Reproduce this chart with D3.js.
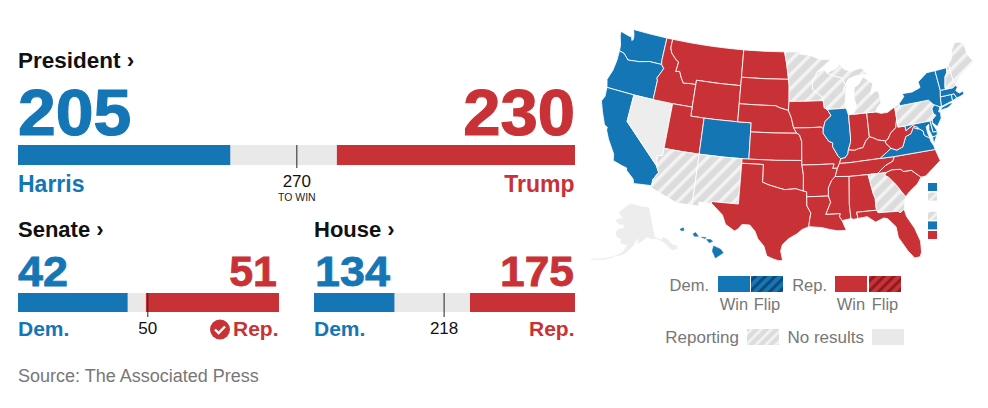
<!DOCTYPE html>
<html><head><meta charset="utf-8">
<script src="https://cdn.jsdelivr.net/npm/d3@7"></script>
<style>html,body{margin:0;padding:0;background:#fff}svg{display:block}text{font-family:"Liberation Sans",Arial,sans-serif}</style>
</head><body><svg id="c" width="988" height="408"></svg>
<script>
const BLUE="#1576b6",RED="#c83236",LIGHT="#e9e9e9",GREY="#777";
const raceNames=["President","Senate","House"];
const raceDem=[205,42,134];
const raceRep=[230,51,175];
const raceTotal=[538,100,435];
const raceWin=[270,50,218];
const raceLeftLabel=["Harris","Dem.","Dem."];
const raceRightLabel=["Trump","Rep.","Rep."];

const demStates=["WA","OR","CA","CO","IL","NY","VT","MA","CT","RI","NJ","DE","MD","VA","HI"];
const reportingStates=["AZ","NM","MN","WI","MI","PA","GA","NH","ME"];
const noResultStates=["NV","AK"];
const repStates=["ID","MT","WY","UT","ND","SD","NE","KS","OK","TX","IA","MO","AR","LA","IN","OH","KY","TN","MS","AL","FL","SC","NC","WV"];

const districtBoxes=["dem","reporting",null,"reporting","dem","rep"];

const shapes={
WA:[[[-124.7,48.4],[-123.2,48.15],[-122.75,48.15],[-122.55,47.75],[-122.35,47.95],[-122.5,48.5],[-122.8,49],[-120,49],[-117.03,49],[-117.04,46.42],[-116.92,45.99],[-118.98,46],[-119.3,45.93],[-120.5,45.7],[-121.2,45.65],[-122.3,45.55],[-122.8,45.9],[-123.2,46.15],[-124,46.27],[-124.1,46.9],[-124.6,47.9]]],
OR:[[[-124,46.27],[-123.2,46.15],[-122.8,45.9],[-122.3,45.55],[-121.2,45.65],[-120.5,45.7],[-119.3,45.93],[-118.98,46],[-116.92,45.99],[-116.47,45.6],[-116.85,44.95],[-117.2,44.4],[-117.03,44.2],[-117.03,42],[-120,42],[-124.2,42],[-124.55,42.85],[-124.1,44],[-123.95,45.2]]],
CA:[[[-124.2,42],[-120,42],[-120,39],[-114.63,35],[-114.14,34.3],[-114.72,33.4],[-114.72,32.72],[-117.12,32.53],[-117.3,33],[-118.4,33.75],[-118.5,34.03],[-119.2,34.15],[-120.5,34.45],[-120.65,35.15],[-121.9,36.6],[-122.5,37.5],[-122.5,37.8],[-123,38],[-123.8,39.3],[-124.4,40.4],[-124.1,41]]],
NV:[[[-120,42],[-117.03,42],[-114.04,42],[-114.04,37],[-114.04,36.2],[-114.75,36.1],[-114.63,35],[-120,39]]],
ID:[[[-117.03,49],[-116.05,49],[-116.05,48],[-115.7,47.45],[-114.75,46.8],[-114.35,46.65],[-114.5,45.55],[-113.9,45.65],[-113.45,44.95],[-113,44.45],[-111.5,44.55],[-111.05,44.48],[-111.05,42],[-114.04,42],[-117.03,42],[-117.03,44.2],[-117.2,44.4],[-116.85,44.95],[-116.47,45.6],[-116.92,45.99],[-117.04,46.42]]],
MT:[[[-116.05,49],[-113,49],[-110,49],[-107,49],[-104.05,49],[-104.05,45.94],[-104.05,45],[-107.5,45],[-111.05,45],[-111.05,44.48],[-111.5,44.55],[-113,44.45],[-113.45,44.95],[-113.9,45.65],[-114.5,45.55],[-114.35,46.65],[-114.75,46.8],[-115.7,47.45],[-116.05,48]]],
WY:[[[-111.05,45],[-107.5,45],[-104.05,45],[-104.05,43],[-104.05,41],[-107.5,41],[-109.05,41],[-111.05,41],[-111.05,42],[-111.05,44.48]]],
UT:[[[-114.04,42],[-111.05,42],[-111.05,41],[-109.05,41],[-109.05,37],[-111.5,37],[-114.04,37]]],
CO:[[[-109.05,41],[-107.5,41],[-104.05,41],[-102.05,41],[-102.05,40],[-102.05,37],[-103,37],[-105.5,37],[-109.05,37]]],
AZ:[[[-114.04,37],[-111.5,37],[-109.05,37],[-109.05,31.33],[-111.07,31.33],[-114.8,32.5],[-114.72,32.72],[-114.72,33.4],[-114.14,34.3],[-114.63,35],[-114.75,36.1],[-114.04,36.2]]],
NM:[[[-109.05,37],[-105.5,37],[-103,37],[-103,36.5],[-103.05,32],[-106.62,32],[-106.53,31.78],[-108.2,31.78],[-108.2,31.33],[-109.05,31.33]]],
ND:[[[-104.05,49],[-100.5,49],[-97.23,49],[-96.85,47.6],[-96.56,45.94],[-100.3,45.94],[-104.05,45.94]]],
SD:[[[-104.05,45.94],[-100.3,45.94],[-96.56,45.94],[-96.45,45.3],[-96.45,43.5],[-96.55,42.5],[-97.9,42.8],[-98.5,43],[-101.3,43],[-104.05,43]]],
NE:[[[-104.05,43],[-101.3,43],[-98.5,43],[-97.9,42.8],[-96.55,42.5],[-96.1,41.7],[-95.76,40.58],[-95.3,40],[-98.5,40],[-102.05,40],[-102.05,41],[-104.05,41]]],
KS:[[[-102.05,40],[-98.5,40],[-95.3,40],[-94.9,39.8],[-94.6,39.1],[-94.62,37],[-98.3,37],[-102.05,37]]],
OK:[[[-103,37],[-98.3,37],[-94.62,37],[-94.62,36.5],[-94.43,35.4],[-94.48,33.64],[-95.5,33.9],[-97,33.8],[-97.9,34],[-99.2,34.3],[-100,34.56],[-100,36.5],[-103,36.5]]],
TX:[[[-103,36.5],[-100,36.5],[-100,34.56],[-99.2,34.3],[-97.9,34],[-97,33.8],[-95.5,33.9],[-94.48,33.64],[-94.04,33.55],[-94.04,33],[-94.04,32],[-93.55,31.2],[-93.75,30.35],[-93.85,29.7],[-94.7,29.4],[-95.4,28.9],[-96.4,28.4],[-97.2,27.7],[-97.4,27],[-97.15,25.96],[-97.6,25.9],[-98.3,26.1],[-99.1,26.4],[-99.5,27.5],[-100.3,28.3],[-100.7,29.1],[-101.4,29.77],[-102.4,29.77],[-102.9,29.2],[-103.3,29],[-104.5,29.65],[-105,30.65],[-106.53,31.78],[-106.62,32],[-103.05,32]]],
MN:[[[-97.23,49],[-95.15,49],[-95.15,49.38],[-94.6,48.72],[-93,48.6],[-91.5,48.1],[-89.6,48],[-92,46.7],[-92.3,46.1],[-92.8,45.6],[-92.75,44.75],[-91.25,43.85],[-91.22,43.5],[-94,43.5],[-96.45,43.5],[-96.45,45.3],[-96.56,45.94],[-96.85,47.6]]],
IA:[[[-96.45,43.5],[-94,43.5],[-91.22,43.5],[-91.1,42.7],[-90.65,42.5],[-90.15,41.8],[-91.1,41.2],[-91.4,40.4],[-91.7,40.6],[-93.7,40.58],[-95.76,40.58],[-96.1,41.7],[-96.55,42.5]]],
MO:[[[-95.76,40.58],[-93.7,40.58],[-91.7,40.6],[-91.4,40.4],[-91.45,39.9],[-90.7,39],[-90.15,38.8],[-90.2,38.4],[-89.5,37.3],[-89.15,37],[-89.4,36.5],[-89.7,36],[-90.37,36],[-90.15,36.5],[-92.4,36.5],[-94.62,36.5],[-94.62,37],[-94.6,39.1],[-94.9,39.8],[-95.3,40]]],
AR:[[[-94.62,36.5],[-92.4,36.5],[-90.15,36.5],[-90.37,36],[-89.7,36],[-90.1,35.1],[-90.6,34.7],[-91.1,33.9],[-91.15,33],[-94.04,33],[-94.04,33.55],[-94.48,33.64],[-94.43,35.4]]],
LA:[[[-94.04,33],[-91.15,33],[-90.9,32.3],[-91.6,31],[-89.73,31],[-89.85,30.65],[-89.55,30.2],[-89.4,29.8],[-89.1,29.1],[-90.2,29.1],[-91.2,29.3],[-92.2,29.55],[-93.85,29.7],[-93.75,30.35],[-93.55,31.2],[-94.04,32]]],
WI:[[[-92,46.7],[-90.8,46.95],[-90.4,46.55],[-89.1,46.1],[-88.1,45.9],[-87.6,45.1],[-88,44.55],[-87.3,45.2],[-87.7,44],[-87.9,43],[-87.8,42.5],[-90.65,42.5],[-91.1,42.7],[-91.22,43.5],[-91.25,43.85],[-92.75,44.75],[-92.8,45.6],[-92.3,46.1]]],
IL:[[[-90.65,42.5],[-87.8,42.5],[-87.53,41.7],[-87.53,39.3],[-87.6,38.7],[-88,37.9],[-88.1,37.5],[-88.5,37.1],[-89.15,37],[-89.5,37.3],[-90.2,38.4],[-90.15,38.8],[-90.7,39],[-91.45,39.9],[-91.4,40.4],[-91.1,41.2],[-90.15,41.8]]],
IN:[[[-87.53,41.7],[-87.2,41.76],[-86.8,41.76],[-84.8,41.76],[-84.82,39.1],[-85.4,38.7],[-85.9,38],[-86.5,37.95],[-87.1,37.8],[-88,37.9],[-87.6,38.7],[-87.53,39.3]]],
OH:[[[-84.8,41.76],[-83.45,41.73],[-82.7,41.5],[-81.7,41.5],[-80.52,41.98],[-80.52,40.64],[-80.85,39.7],[-81.7,39.2],[-82.2,38.6],[-82.6,38.42],[-83.7,38.65],[-84.3,38.95],[-84.82,39.1]]],
MI:[[[-86.8,41.76],[-84.8,41.76],[-83.45,41.73],[-83.1,42.2],[-82.5,42.6],[-82.45,43],[-82.6,43.9],[-83,44.05],[-83.9,43.7],[-83.3,44.9],[-84.7,45.75],[-85.5,45],[-86.25,44.7],[-86.5,43.7],[-86.2,42.6]],[[-90.4,46.55],[-89.1,46.9],[-88.2,47.4],[-87.6,46.8],[-86.5,46.5],[-85,46.75],[-84.4,46.5],[-84,46],[-84.8,45.95],[-85.8,45.95],[-87,45.7],[-87.6,45.1],[-88.1,45.9],[-89.1,46.1]]],
KY:[[[-89.4,36.5],[-88.05,36.5],[-83.68,36.6],[-81.97,37.54],[-82.6,38.17],[-82.6,38.42],[-83.7,38.65],[-84.3,38.95],[-84.82,39.1],[-85.4,38.7],[-85.9,38],[-86.5,37.95],[-87.1,37.8],[-88,37.9],[-88.1,37.5],[-88.5,37.1],[-89.15,37]]],
TN:[[[-89.7,36],[-89.4,36.5],[-88.05,36.5],[-83.68,36.6],[-81.68,36.59],[-82,36.1],[-83.1,35.75],[-84.3,35],[-85.6,35],[-88.2,35],[-90.1,35.1]]],
MS:[[[-90.1,35.1],[-88.2,35],[-88.47,31.9],[-88.4,30.35],[-89.55,30.2],[-89.85,30.65],[-89.73,31],[-91.6,31],[-90.9,32.3],[-91.15,33],[-91.1,33.9],[-90.6,34.7]]],
AL:[[[-88.2,35],[-85.6,35],[-85.2,32.87],[-85,32.3],[-85.05,31.55],[-85,31],[-87.6,31],[-87.5,30.3],[-88.1,30.25],[-88.4,30.35],[-88.47,31.9]]],
GA:[[[-85.6,35],[-84.3,35],[-83.1,35],[-83.35,34.7],[-82.9,34.45],[-82,33.5],[-81.4,32.6],[-81,32.05],[-81.45,30.7],[-82.05,30.36],[-82.2,30.57],[-84.85,30.7],[-85,31],[-85.05,31.55],[-85,32.3],[-85.2,32.87]]],
FL:[[[-87.6,31],[-85,31],[-84.85,30.7],[-82.2,30.57],[-82.05,30.36],[-81.45,30.7],[-81.3,29.9],[-80.5,28.4],[-80.05,26.9],[-80.15,25.7],[-80.4,25.2],[-81.1,25.15],[-81.8,26.1],[-82.7,27.7],[-82.8,28.9],[-83.7,29.9],[-84.2,30.05],[-85.3,29.7],[-86.3,30.4],[-87.5,30.3]]],
SC:[[[-83.1,35],[-82.3,35.2],[-81.05,35.1],[-80.8,34.82],[-79.67,34.8],[-78.55,33.87],[-79.2,33.2],[-80.4,32.5],[-81,32.05],[-81.4,32.6],[-82,33.5],[-82.9,34.45],[-83.35,34.7]]],
NC:[[[-84.3,35],[-83.1,35],[-82.3,35.2],[-81.05,35.1],[-80.8,34.82],[-79.67,34.8],[-78.55,33.87],[-77.9,33.9],[-76.5,34.7],[-75.55,35.25],[-75.9,36.55],[-81.68,36.59],[-82,36.1],[-83.1,35.75]]],
VA:[[[-83.68,36.6],[-81.68,36.59],[-75.9,36.55],[-76,37],[-76.3,37.6],[-76.3,37.9],[-77,38.3],[-77.05,38.8],[-77.5,39.1],[-77.8,39.15],[-78.35,39.4],[-78.85,38.77],[-79.65,38.55],[-80.3,37.5],[-81.2,37.25],[-81.97,37.54]],[[-75.9,37.95],[-75.25,38.03],[-75.95,37.15]]],
WV:[[[-81.97,37.54],[-81.2,37.25],[-80.3,37.5],[-79.65,38.55],[-78.85,38.77],[-78.35,39.4],[-77.8,39.15],[-77.75,39.33],[-78.4,39.62],[-79.48,39.2],[-79.48,39.72],[-80.52,39.72],[-80.52,40.64],[-80.85,39.7],[-81.7,39.2],[-82.2,38.6],[-82.6,38.42],[-82.6,38.17]]],
PA:[[[-80.52,41.98],[-79.76,42.27],[-79.76,42],[-75.35,42],[-74.7,41.36],[-75.13,40.97],[-75.05,40.4],[-74.75,40.2],[-75.42,39.8],[-75.79,39.72],[-79.48,39.72],[-80.52,39.72],[-80.52,40.64]]],
NY:[[[-79.76,42.27],[-79.76,42],[-75.35,42],[-74.7,41.36],[-73.9,41],[-73.66,41],[-73.49,42.05],[-73.27,42.75],[-73.35,45],[-74.7,45],[-76.3,44.2],[-76.2,43.55],[-77.5,43.25],[-79.05,43.27],[-78.9,42.9]],[[-74,40.6],[-73.6,40.9],[-72.3,41.15],[-71.9,41.05],[-72.8,40.7]]],
NJ:[[[-74.7,41.36],[-73.9,41],[-74.25,40.5],[-74,40.4],[-74.1,39.75],[-74.9,38.95],[-75.5,39.5],[-75.42,39.8],[-74.75,40.2],[-75.05,40.4],[-75.13,40.97]]],
DE:[[[-75.79,39.72],[-75.42,39.8],[-75.55,39.45],[-75.05,38.45],[-75.7,38.46]]],
MD:[[[-79.48,39.72],[-75.79,39.72],[-75.7,38.46],[-75.05,38.45],[-75.25,38.03],[-75.9,37.95],[-76.2,38.8],[-76.05,39.4],[-76.5,39.2],[-76.45,38.4],[-76.3,37.9],[-77,38.3],[-77.05,38.8],[-77.5,39.1],[-77.75,39.33],[-78.4,39.62],[-79.48,39.2]]],
CT:[[[-73.49,42.05],[-71.8,42.02],[-71.86,41.32],[-73.66,41]]],
RI:[[[-71.8,42.02],[-71.38,42.02],[-71.15,41.5],[-71.86,41.32]]],
MA:[[[-73.49,42.05],[-73.27,42.75],[-72.46,42.73],[-71.3,42.7],[-70.9,42.88],[-70.6,42.65],[-71,42.3],[-70.6,41.95],[-70,42.05],[-69.95,41.7],[-70.65,41.55],[-71.15,41.5],[-71.38,42.02],[-71.8,42.02]]],
VT:[[[-73.35,45],[-71.5,45.01],[-71.6,44.5],[-72.05,44.1],[-72.45,43],[-72.46,42.73],[-73.27,42.75]]],
NH:[[[-71.5,45.01],[-71.08,45.3],[-70.98,43.4],[-70.7,43.05],[-70.9,42.88],[-71.3,42.7],[-72.46,42.73],[-72.45,43],[-72.05,44.1],[-71.6,44.5]]],
ME:[[[-71.08,45.3],[-70.4,45.8],[-70,46.7],[-69.2,47.45],[-68.3,47.35],[-67.8,47.07],[-67.78,45.9],[-67.45,45.3],[-67,44.85],[-68.5,44.3],[-69.8,43.75],[-70.7,43.05],[-70.98,43.4]]],
AK:[[[-141,69.65],[-141,60.3],[-139.5,59.8],[-137.5,58.9],[-136,59.6],[-135,59.4],[-133.5,58.4],[-131.8,56.6],[-130,56],[-130,55],[-131.5,55],[-133,55],[-134.5,56.5],[-136,58],[-138,59],[-140,59.7],[-143,60],[-146,60.7],[-148,60],[-150,59.3],[-151.8,59.2],[-151,60.8],[-153,59.7],[-154,58.5],[-156,57.5],[-158.5,56],[-161,55.2],[-164.5,54.6],[-163,55.1],[-160.5,56],[-157.5,58.7],[-159,58.6],[-162,58.7],[-162,60],[-165,60.7],[-166,62],[-164.8,63],[-161,63.6],[-161,64.6],[-165,64.5],[-168,65.6],[-164,66.5],[-162,66.2],[-163.7,67],[-166.5,68.3],[-163,69.5],[-160,70.6],[-156.5,71.3],[-152,70.8],[-147,70.2]],[[-164.5,54.5],[-169,53],[-176,51.8],[-169,53.4]]],
HI:[[[-155.9,20.25],[-155.1,19.9],[-154.8,19.5],[-155.7,18.95],[-156.05,19.7]],[[-156.7,20.95],[-156.25,20.95],[-156,20.75],[-156.4,20.6]],[[-157.3,21.2],[-156.75,21.17],[-156.9,21.05]],[[-158.27,21.55],[-157.97,21.71],[-157.65,21.3],[-158.1,21.3]],[[-159.78,22.05],[-159.4,22.23],[-159.3,21.95],[-159.6,21.9]]]
};

const svg=d3.select("#c");
const defs=svg.append("defs");
function hatch(id,bg,fg,size,fgw){
  const p=defs.append("pattern").attr("id",id).attr("patternUnits","userSpaceOnUse")
    .attr("width",size).attr("height",size).attr("patternTransform","rotate(45)");
  p.append("rect").attr("width",size).attr("height",size).attr("fill",bg);
  p.append("rect").attr("width",fgw).attr("height",size).attr("fill",fg);
}
hatch("reporting","#dcdcdc","#f3f3f3",10,3.5);
hatch("legReporting","#dcdcdc","#f3f3f3",7,2.6);
hatch("demFlip","#1576b6","#0f4a78",7,3);
hatch("repFlip","#c83236","#8c1c20",7,3);

function stretch(sel,k){const n=sel.node();sel.attr("textLength",n.getComputedTextLength()*k).attr("lengthAdjust","spacingAndGlyphs");return sel;}

// bars
const layout=[{x0:18,x1:575,y:145,h:20,num:65,numY:135,numX:18,titleY:68,title:22.5,lab:23,labY:192,tickEnd:168,winY:187,numEnd:575},
              {x0:18,x1:279,y:293,h:19,num:43,numY:286,numX:18,titleY:237,title:22,lab:21,labY:336,tickEnd:317,winY:334,numEnd:277},
              {x0:314,x1:575,y:293,h:19,num:43,numY:286,numX:315,titleY:237,title:22,lab:21,labY:336,tickEnd:317,winY:334,numEnd:574}];
raceNames.forEach((name,i)=>{
  const L=layout[i],g=svg.append("g");
  const x=d3.scaleLinear().domain([0,raceTotal[i]]).range([L.x0,L.x1]);
  g.append("text").attr("x",L.x0).attr("y",L.titleY).attr("font-size",L.title).attr("font-weight",700).attr("fill","#111").text(name+" ›");
  stretch(g.append("text").attr("x",L.numX).attr("y",L.numY).attr("font-size",L.num).attr("font-weight",700).attr("fill",BLUE).attr("stroke",BLUE).attr("stroke-width",i?0.8:1.2).text(raceDem[i]),1.045);
  stretch(g.append("text").attr("x",L.numEnd).attr("y",L.numY).attr("text-anchor","end").attr("font-size",L.num).attr("font-weight",700).attr("fill",RED).attr("stroke",RED).attr("stroke-width",i?0.8:1.2).text(raceRep[i]),i===1?1:1.03);
  g.append("rect").attr("x",L.x0).attr("y",L.y).attr("width",L.x1-L.x0).attr("height",L.h).attr("fill",LIGHT);
  g.append("rect").attr("x",x(0)).attr("y",L.y).attr("width",x(raceDem[i])-x(0)).attr("height",L.h).attr("fill",BLUE);
  g.append("rect").attr("x",x(raceTotal[i]-raceRep[i])).attr("y",L.y).attr("width",x(raceRep[i])-x(0)).attr("height",L.h).attr("fill",RED);
  g.append("line").attr("x1",x(raceWin[i])-0.7).attr("x2",x(raceWin[i])-0.7).attr("y1",L.y).attr("y2",L.tickEnd).attr("stroke","#222").attr("stroke-width",1);
  g.append("text").attr("x",x(raceWin[i])-0.7).attr("y",L.winY).attr("text-anchor","middle").attr("font-size",17).attr("fill","#111").text(raceWin[i]);
  if(i===0)g.append("text").attr("x",x(raceWin[i])-0.7).attr("y",201).attr("text-anchor","middle").attr("font-size",10.5).attr("fill","#222").text("TO WIN");
  g.append("text").attr("x",L.x0).attr("y",L.labY).attr("font-size",L.lab).attr("font-weight",700).attr("fill",BLUE).text(raceLeftLabel[i]);
  g.append("text").attr("x",L.x1-0.5).attr("y",L.labY).attr("text-anchor","end").attr("font-size",L.lab).attr("font-weight",700).attr("fill",RED).text(raceRightLabel[i]);
});
svg.append("circle").attr("cx",220).attr("cy",329.5).attr("r",10).attr("fill",RED);
svg.append("path").attr("d","M215 329.5l3.6 3.6l6.4-6.6").attr("fill","none").attr("stroke","#fff").attr("stroke-width",2.4);
svg.append("text").attr("x",18).attr("y",382).attr("font-size",18).attr("fill",GREY).text("Source: The Associated Press");

// map
const lower=d3.geoAlbers().parallels([29.5,45.5]).rotate([96,0]).center([0,37.5]).scale(517).translate([792,156]);
const akP=d3.geoConicEqualArea().rotate([154,0]).center([0,58.5]).parallels([55,65]).scale(185).translate([634,245]);
const hiP=d3.geoConicEqualArea().rotate([157,0]).center([0,20.9]).parallels([8,18]).scale(530).translate([704,240]);
const fillOf=id=>demStates.includes(id)?BLUE:repStates.includes(id)?RED:reportingStates.includes(id)?"url(#reporting)":noResultStates.includes(id)?"#ededed":"#eee";
function feature(id){
  const polys=shapes[id].map(r=>{
    const ring=r.concat([r[0]]);
    const geom={type:"Polygon",coordinates:[ring]};
    if(d3.geoArea(geom)>2*Math.PI)ring.reverse();
    return [ring];
  });
  return {type:"Feature",id,geometry:{type:"MultiPolygon",coordinates:polys}};
}
const ids=Object.keys(shapes);
const mapG=svg.append("g");
mapG.selectAll("path").data(ids.map(feature)).join("path")
  .attr("d",f=>d3.geoPath(f.id==="AK"?akP:f.id==="HI"?hiP:lower)(f))
  .attr("fill",f=>fillOf(f.id))
  .attr("stroke",f=>f.id==="AK"?"#ededed":f.id==="HI"?BLUE:"#fff")
  .attr("stroke-opacity",0.85)
  .attr("stroke-width",f=>f.id==="AK"||f.id==="HI"?0.6:1)
  .attr("stroke-linejoin","round");

// district boxes
const boxY=d3.scalePoint().domain(d3.range(districtBoxes.length)).range([183,231]);
districtBoxes.forEach((d,i)=>{
  if(!d)return;
  svg.append("rect").attr("x",928).attr("y",boxY(i)).attr("width",9).attr("height",8)
   .attr("fill",d==="dem"?BLUE:d==="rep"?RED:"url(#legReporting)");
});

// legend
const legendText=[["Dem.",709,291,"end",16.5],["Rep.",827,291,"end",16.5],["Win",734,310,"middle",16.5],["Flip",767,310,"middle",16.5],["Win",851,310,"middle",16.5],["Flip",885,310,"middle",16.5],["Reporting",739,343,"end",17],["No results",864,343,"end",17]];
legendText.forEach(t=>svg.append("text").attr("x",t[1]).attr("y",t[2]).attr("text-anchor",t[3]).attr("font-size",t[4]).attr("fill",GREY).text(t[0]));
const legendSwatches=[[718,276,BLUE],[751,276,"url(#demFlip)"],[835,276,RED],[869,276,"url(#repFlip)"],[747,329,"url(#legReporting)"],[872,329,"#e9e9e9"]];
legendSwatches.forEach(s=>svg.append("rect").attr("x",s[0]).attr("y",s[1]).attr("width",32).attr("height",16).attr("fill",s[2]));
</script></body></html>
